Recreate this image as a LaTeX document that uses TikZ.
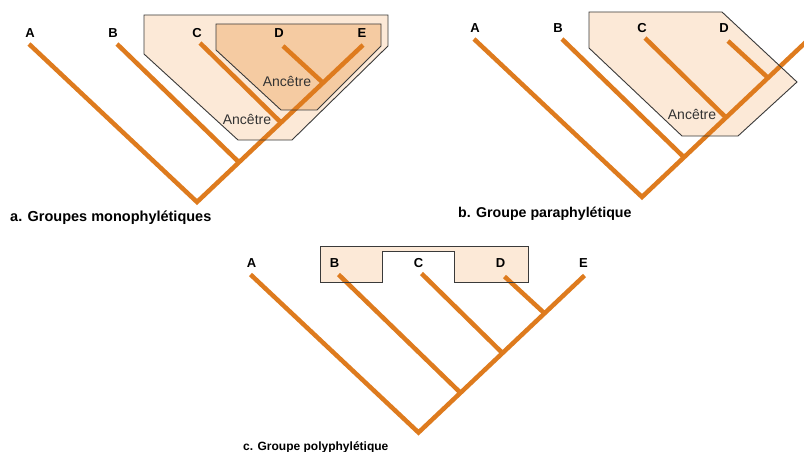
\documentclass[tikz,border=0pt]{standalone}
\usepackage{fontspec}
\setmainfont{Liberation Sans}
\definecolor{branchc}{HTML}{DE7B1E}
\definecolor{filllight}{HTML}{FCE9D7}
\definecolor{filldark}{HTML}{F5CBA2}
\definecolor{outlinec}{HTML}{3A3A3A}
\tikzset{
  branch/.style={draw=branchc, line width=4.5pt},
  grpline/.style={draw=outlinec, line width=0.9pt, line join=miter},
  leaf/.style={font=\fontsize{13}{13}\selectfont\bfseries, inner sep=0pt},
  anc/.style={font=\fontsize{14}{14}\selectfont, inner sep=0pt, text=black!80},
  capt/.style={anchor=base west, inner sep=0pt},
}
\newcommand{\cladetree}[1]{%
  \coordinate (#1root) at (197,202);
  \coordinate (#1tA) at (29,44);
  \coordinate (#1tB) at (117,44);
  \coordinate (#1tC) at (200,43);
  \coordinate (#1tD) at (283,46);
  \coordinate (#1tE) at (363,45);
  \coordinate (#1jB) at (239,162.3);
  \coordinate (#1jC) at (281,122.6);
  \coordinate (#1jD) at (323,82.8);
  \draw[branch] (#1tA) -- (#1root) -- (#1tE);
  \draw[branch] (#1tB) -- (#1jB);
  \draw[branch] (#1tC) -- (#1jC);
  \draw[branch] (#1tD) -- (#1jD);
  \node[leaf] (#1LA) at (30,33) {A};
  \node[leaf] (#1LB) at (113,33) {B};
  \node[leaf] (#1LC) at (197,33) {C};
  \node[leaf] (#1LD) at (279,33) {D};
}
\begin{document}
\begin{tikzpicture}[x=1pt,y=-1pt]
\useasboundingbox (0,0) rectangle (804,452);
\clip (0,0) rectangle (804,452);
\fill[white] (0,0) rectangle (804,452);

% ---------- panel a ----------
\fill[filllight] (144,15) -- (388,15) -- (388,46) -- (292,140) -- (238,140) -- (144,54) -- cycle;
\fill[filldark] (216,24) -- (381,24) -- (381,46) -- (317,110) -- (281,110) -- (216,50) -- cycle;
\cladetree{a}
\node[leaf] (aLE) at (362,33) {E};
\draw[grpline] (144,15) -- (388,15) -- (388,46) -- (292,140) -- (238,140) -- (144,54) -- cycle;
\draw[grpline] (216,24) -- (381,24) -- (381,46) -- (317,110) -- (281,110) -- (216,50) -- cycle;
\node[anc] (aanc1) at (287,81) {Ancêtre};
\node[anc] (aanc2) at (247,119) {Ancêtre};
\node[capt, font=\fontsize{14.5}{14.5}\selectfont\bfseries] (capa) at (10,221) {a. Groupes monophylétiques};

% ---------- panel b ----------
\fill[filllight] (589,12) -- (722,12) -- (797,82) -- (738,136) -- (682,136) -- (589,48) -- cycle;
\begin{scope}[shift={(445,-5)}]
  \cladetree{b}
\end{scope}
\draw[grpline] (589,12) -- (722,12) -- (797,82) -- (738,136) -- (682,136) -- (589,48) -- cycle;
\node[anc] (banc) at (692,114) {Ancêtre};
\node[capt, font=\fontsize{14.2}{14.2}\selectfont\bfseries] (capb) at (458,217) {b. Groupe paraphylétique};

% ---------- panel c ----------
\fill[filllight] (320,246) -- (528,246) -- (528,282) -- (454,282) -- (454,251) -- (382,251) -- (382,282) -- (320,282) -- cycle;
\begin{scope}[shift={(221.5,230.5)}]
  \cladetree{c}
  \node[leaf] (cLE) at (362,33) {E};
\end{scope}
\draw[grpline] (320,246) -- (528,246) -- (528,282) -- (454,282) -- (454,251) -- (382,251) -- (382,282) -- (320,282) -- cycle;
\node[capt, font=\fontsize{12}{12}\selectfont\bfseries] (capc) at (243,450) {c. Groupe polyphylétique};
\end{tikzpicture}
\end{document}
